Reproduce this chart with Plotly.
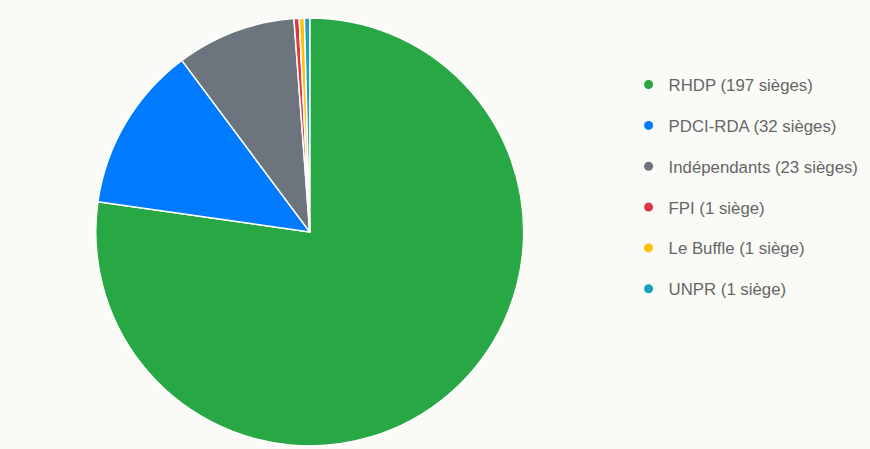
import plotly.graph_objects as go

parties = ["RHDP", "PDCI-RDA", "Indépendants", "FPI", "Le Buffle", "UNPR"]
seats = [197, 32, 23, 1, 1, 1]
labels = ["RHDP (197 sièges)", "PDCI-RDA (32 sièges)", "Indépendants (23 sièges)",
          "FPI (1 siège)", "Le Buffle (1 siège)", "UNPR (1 siège)"]
colors = ["#28a745", "#007bff", "#6c757d", "#dc3545", "#ffc107", "#17a2b8"]

fig = go.Figure()
fig.add_trace(go.Pie(
    labels=labels, values=seats, sort=False, direction="clockwise", rotation=0,
    marker=dict(colors=colors, line=dict(color="white", width=1.5)),
    textinfo="none", hoverinfo="label+percent", showlegend=False,
    domain=dict(x=[0.110, 0.602], y=[0.007, 0.960]),
))
for i, (lab, c) in enumerate(zip(labels, colors)):
    fig.add_trace(go.Scatter(
        x=[None], y=[None], mode="markers", name=lab,
        marker=dict(symbol="circle", size=9, color=c),
        legendgroup=str(i), showlegend=True,
    ))

fig.update_layout(
    width=870, height=449,
    margin=dict(l=0, r=0, t=0, b=0),
    paper_bgcolor="#fafaf7", plot_bgcolor="#fafaf7",
    xaxis=dict(visible=False), yaxis=dict(visible=False),
    legend=dict(x=0.7225, y=0.8505, xanchor="left", yanchor="top",
                font=dict(family="Liberation Sans, Arial, sans-serif", size=16.8, color="#666666"),
                tracegroupgap=16, bgcolor="rgba(0,0,0,0)", itemwidth=30),
)
fig.write_html("out.html", config={"displayModeBar": False},
               post_script="document.body.style.margin='0';document.body.style.background='#fafaf7';")
